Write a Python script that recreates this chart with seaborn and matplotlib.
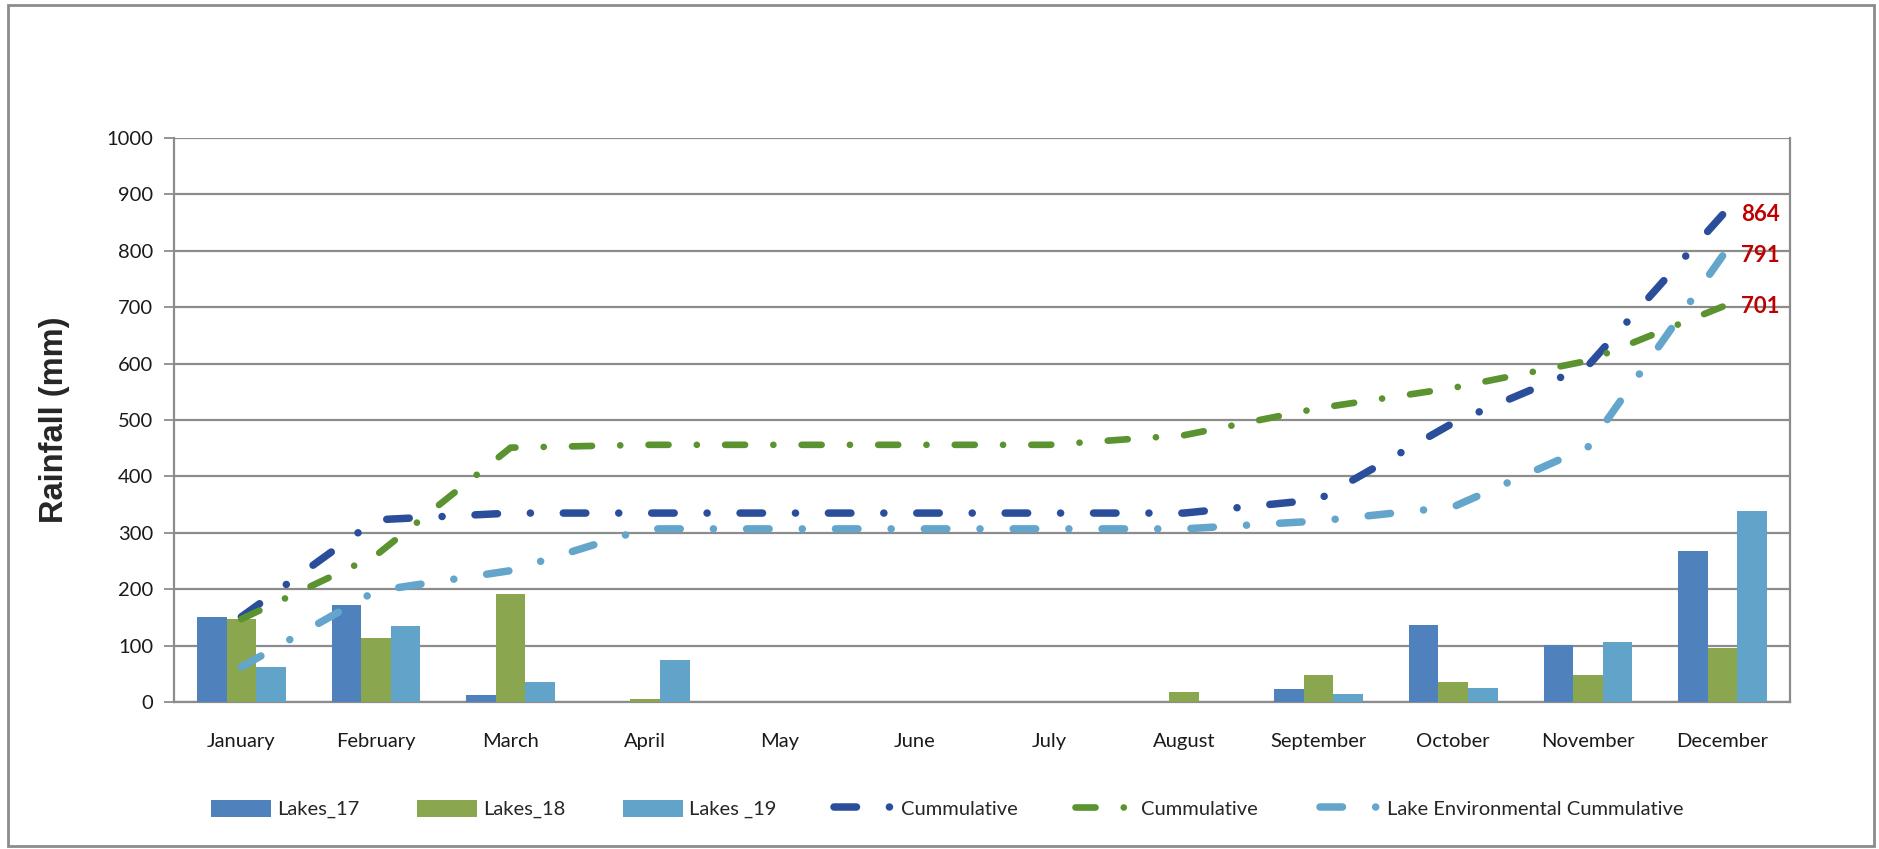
import numpy as np
import pandas as pd
import matplotlib
matplotlib.use("Agg")
import matplotlib.pyplot as plt
from matplotlib.patches import Rectangle
import seaborn as sns

# Monthly rainfall (mm) for three lakes
months = ["January", "February", "March", "April", "May", "June",
          "July", "August", "September", "October", "November", "December"]
lakes_17 = [151, 172, 12, 0, 0, 0, 0, 0, 24, 136, 101, 268]
lakes_18 = [147, 113, 191, 5, 0, 0, 0, 17, 48, 36, 48, 96]
lakes_19 = [62, 135, 36, 74, 0, 0, 0, 0, 14, 25, 106, 339]

bar_names = ["Lakes_17", "Lakes_18", "Lakes _19"]
line_names = ["Cummulative", "Cummulative ", "Lake Environmental Cummulative"]
y_ticks = [0, 100, 200, 300, 400, 500, 600, 700, 800, 900, 1000]

bar_colors = ["#4F81BD", "#8AA64E", "#62A3C9"]
line_colors = ["#2B4E9B", "#5B9331", "#63A5CB"]
line_widths = [5.4, 4.8, 5.4]

sns.set_theme(style="white")
plt.rcParams["font.family"] = ["Lato", "DejaVu Sans"]

df = pd.DataFrame({
    "month": months * 3,
    "rain": lakes_17 + lakes_18 + lakes_19,
    "series": np.repeat(bar_names, len(months)),
})

DPI = 100
fig = plt.figure(figsize=(18.79, 8.49), dpi=DPI)
ax = fig.add_axes([0.0926, 0.1731, 0.8600, 0.6644])

sns.barplot(data=df, x="month", y="rain", hue="series", order=months,
            hue_order=bar_names, palette=bar_colors, width=0.66, gap=0,
            saturation=1, errorbar=None, linewidth=0, ax=ax, zorder=3)

ax.set_xlim(-0.5, len(months) - 0.5)
ax.set_ylim(0, 1000)
x_pos = np.arange(len(months))


def dash_pattern(x, y, lw, dash=3.0, gap=4.3, dot=0.01):
    """Long-dash / dot pattern stretched so the path starts and ends on a dash."""
    pts = ax.transData.transform(np.column_stack([x, y]))
    length_pt = np.hypot(*np.diff(pts, axis=0).T).sum() * 72 / DPI
    usable = length_pt / lw - dash
    n = max(1, round(usable / (dash + dot + 2 * gap)))
    g = (usable / n - dash - dot) / 2
    return (0, (dash, g, dot, g))


# Running totals drawn as long-dash / dot lines
for vals, name, col, lw in zip([lakes_17, lakes_18, lakes_19], line_names,
                               line_colors, line_widths):
    cum = np.cumsum(vals)
    sns.lineplot(x=x_pos, y=cum, ax=ax, color=col, linewidth=lw,
                 linestyle=dash_pattern(x_pos, cum, lw),
                 dash_capstyle="round", label=name, zorder=4)
    ax.annotate(f"{cum[-1]:.0f}", xy=(x_pos[-1], cum[-1]), xytext=(13, 0),
                textcoords="offset points", ha="left", va="center",
                color="#C00000", fontsize=16, fontweight="bold")

ax.set_xlim(-0.5, len(months) - 0.5)
ax.set_ylim(0, 1000)
ax.set_yticks(y_ticks)
ax.set_yticklabels([str(t) for t in y_ticks], fontsize=14.5, color="#1a1a1a")
ax.set_xticks(x_pos)
ax.set_xticklabels(months, fontsize=14.5, color="#1a1a1a")
ax.set_xticks(np.arange(-0.5, len(months)), minor=True)
ax.tick_params(axis="x", which="major", length=0, pad=22)
ax.tick_params(axis="x", which="minor", length=8, width=1.3, color="#8c8c8c",
               direction="out")
ax.tick_params(axis="y", which="major", length=7, width=1.3, color="#8c8c8c",
               direction="out", pad=8, left=True)
ax.set_xlabel("")
ax.set_ylabel("Rainfall (mm)", fontsize=23.5, fontweight="bold",
              family=["Liberation Sans", "DejaVu Sans"], labelpad=26)

ax.yaxis.grid(True, color="#8c8c8c", linewidth=1.6, zorder=0)
ax.xaxis.grid(False)
ax.set_axisbelow(True)
for side in ["left", "bottom", "right"]:
    ax.spines[side].set_visible(True)
    ax.spines[side].set_color("#8c8c8c")
    ax.spines[side].set_linewidth(1.6)
ax.spines["top"].set_visible(False)

handles, labels = ax.get_legend_handles_labels()
ax.legend(handles, labels, ncol=6, loc="center",
          bbox_to_anchor=(0.504, 0.047), bbox_transform=fig.transFigure,
          frameon=False, fontsize=14.5, handlelength=3.0, handleheight=0.9,
          handletextpad=0.3, columnspacing=2.85)

# Outer chart frame
fig.patches.append(Rectangle((0.0045, 0.004), 0.993, 0.99,
                             transform=fig.transFigure, fill=False,
                             edgecolor="#8c8c8c", linewidth=2.0))

fig.savefig("out.png", dpi=DPI)
